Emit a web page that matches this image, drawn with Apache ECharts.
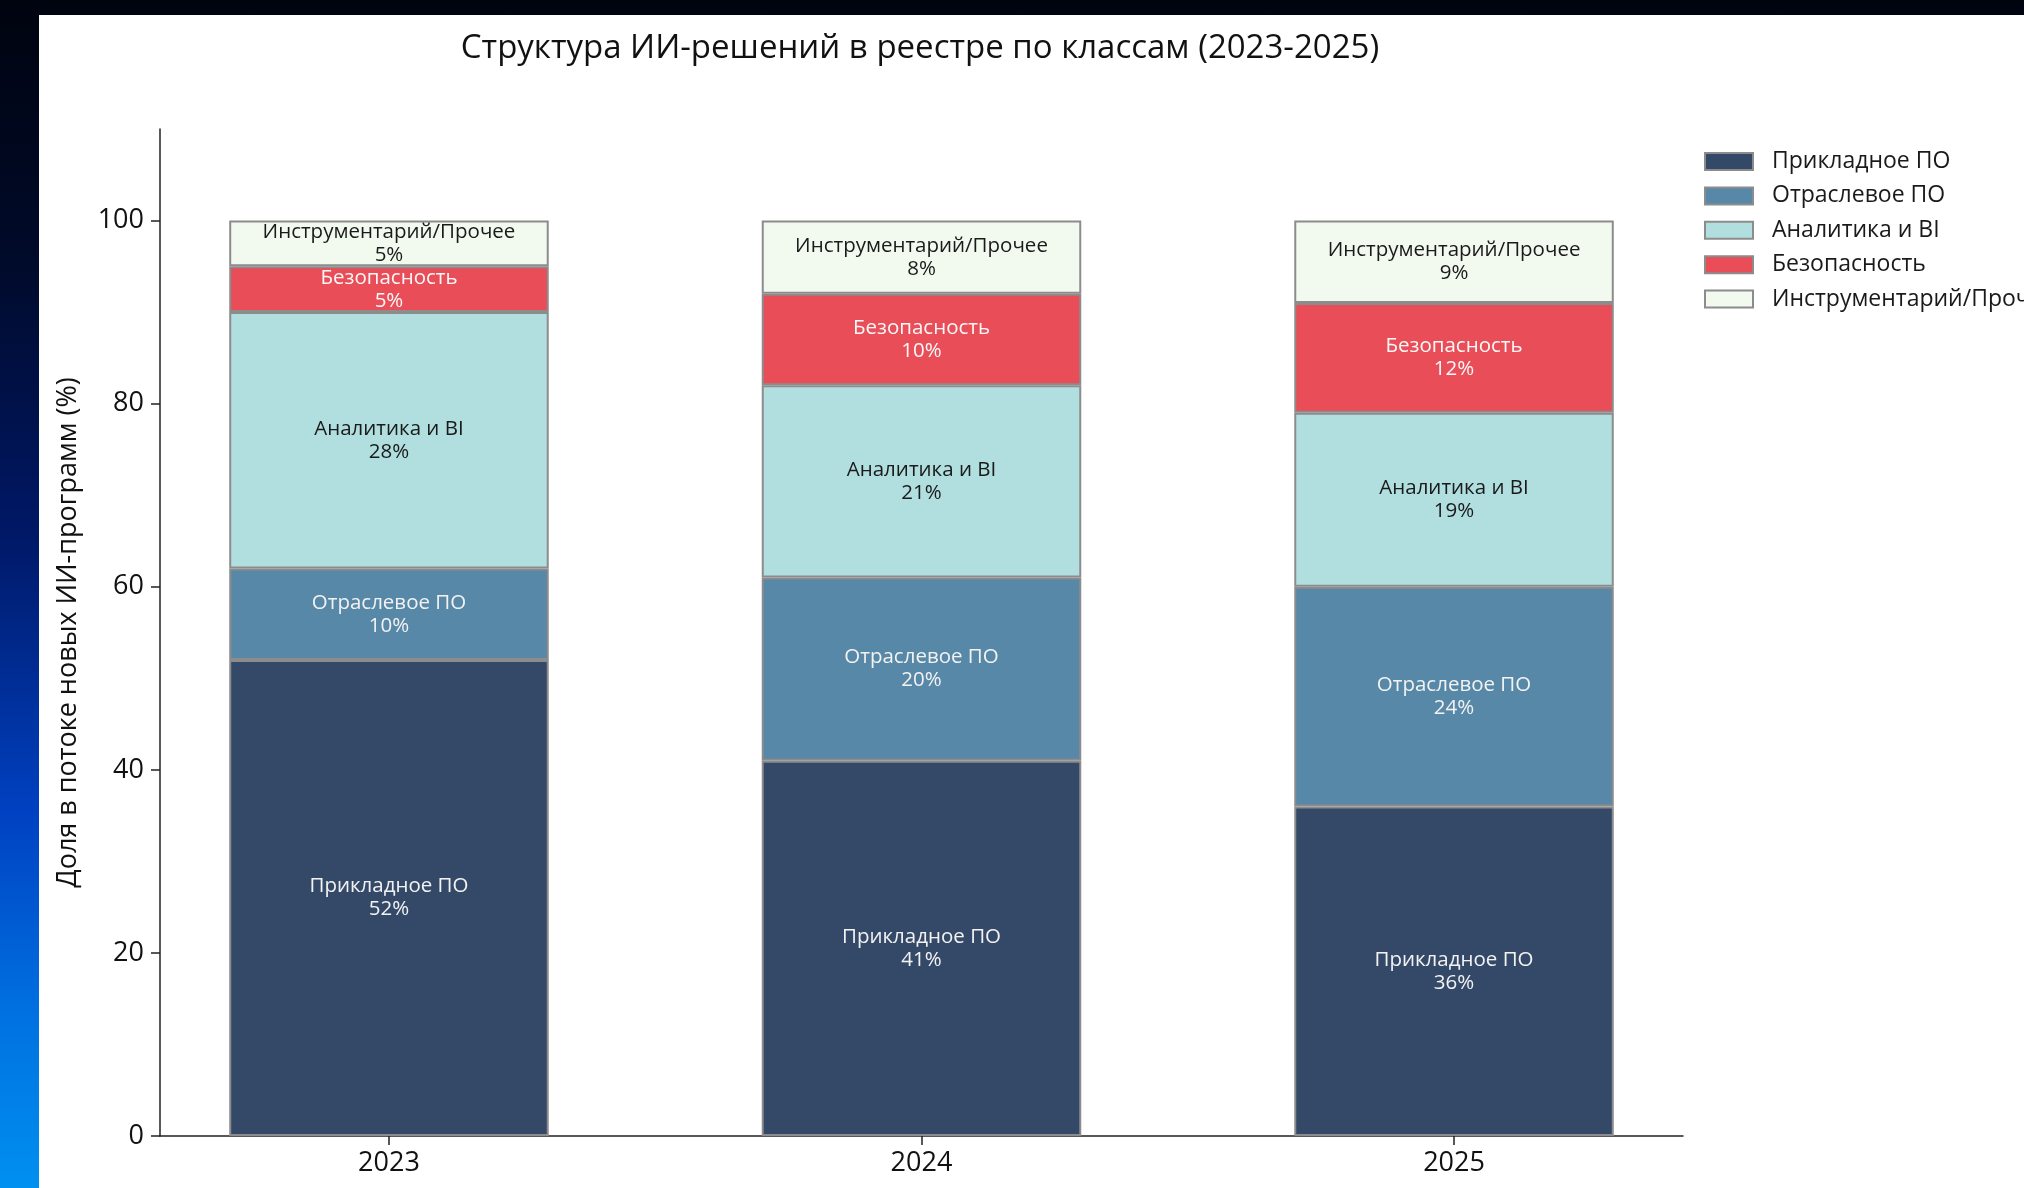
<!DOCTYPE html>
<html>
<head>
<meta charset="utf-8">
<script src="https://cdn.jsdelivr.net/npm/echarts@6/dist/echarts.min.js"></script>
<style>
html,body{margin:0;padding:0;width:2024px;height:1188px;overflow:hidden;}
body{background:linear-gradient(to bottom,#00040f 0%,#000a2a 22%,#001866 45%,#0040c0 68%,#0070e0 85%,#0090f0 100%);}
#chart{position:absolute;left:39px;top:15px;width:1985px;height:1173px;background:#ffffff;}
</style>
</head>
<body>
<div id="chart"></div>
<script>
const categories = ['2023', '2024', '2025'];
const seriesNames = ['Прикладное ПО', 'Отраслевое ПО', 'Аналитика и BI', 'Безопасность', 'Инструментарий/Прочее'];
const appliedSW = [52, 41, 36];
const industrySW = [10, 20, 24];
const analyticsBI = [28, 21, 19];
const security = [5, 10, 12];
const tooling = [5, 8, 9];
const yTicks = [0, 20, 40, 60, 80, 100];

const seriesValues = [appliedSW, industrySW, analyticsBI, security, tooling];
const colors = ['#344968', '#5888a7', '#b1dedf', '#e94d58', '#f2faf0'];
const labelColors = ['#f2f2f2', '#f2f2f2', '#1a1a1a', '#f8f8f8', '#1a1a1a'];
const FONT = '"Open Sans", sans-serif';

const chart = echarts.init(document.getElementById('chart'));
// visible axes frame
const axLeft = 121, axTop = 114, axW = 1523, axH = 1007;
const xMin = -0.43, xMax = 2.43;
const unit = axW / (xMax - xMin);           // px per category step
const barGridW = unit * categories.length;   // category band grid width
const barGridLeft = axLeft + (0 - xMin) * unit - unit / 2;

chart.setOption({
  animation: false,
  backgroundColor: '#ffffff',
  textStyle: { fontFamily: FONT },
  title: {
    text: 'Структура ИИ-решений в реестре по классам (2023-2025)',
    left: 876, textAlign: 'center', top: 12,
    textStyle: { fontFamily: FONT, fontSize: 33, fontWeight: 'normal', color: '#111' }
  },
  legend: {
    orient: 'vertical', left: 1660, top: 130,
    itemWidth: 48, itemHeight: 17, itemGap: 11.4,
    icon: 'rect',
    data: seriesNames,
    textStyle: { fontFamily: FONT, fontSize: 23, color: '#1a1a1a', padding: [0, 0, 0, 14] },
    itemStyle: { borderColor: '#8c8c8c', borderWidth: 2 }
  },
  grid: [
    { left: barGridLeft, top: axTop, width: barGridW, height: axH, containLabel: false },
    { left: axLeft, top: axTop, width: axW, height: axH, containLabel: false }
  ],
  xAxis: [
    {
      type: 'category', gridIndex: 0, data: categories, boundaryGap: true,
      axisLine: { show: false }, axisTick: { show: false }, axisLabel: { show: false }, splitLine: { show: false }
    },
    {
      type: 'value', gridIndex: 1, min: xMin, max: xMax,
      splitLine: { show: false },
      axisLine: { show: true, onZero: false, lineStyle: { color: '#222', width: 1.5 } },
      axisTick: { show: true, length: 9, customValues: [0, 1, 2], lineStyle: { color: '#222', width: 1.5 } },
      axisLabel: { customValues: [0, 1, 2], margin: 14, fontFamily: FONT, fontSize: 27, color: '#111',
        formatter: v => categories[Math.round(v)] }
    }
  ],
  yAxis: [
    {
      type: 'value', gridIndex: 0, min: 0, max: 110,
      axisLine: { show: false }, axisTick: { show: false }, axisLabel: { show: false }, splitLine: { show: false }
    },
    {
      type: 'value', gridIndex: 1, min: 0, max: 110, interval: 20,
      name: 'Доля в потоке новых ИИ-программ (%)',
      nameLocation: 'middle', nameGap: 78,
      nameTextStyle: { fontFamily: FONT, fontSize: 27, color: '#111' },
      splitLine: { show: false },
      axisLine: { show: true, onZero: false, lineStyle: { color: '#222', width: 1.5 } },
      axisTick: { show: true, length: 9, customValues: yTicks, lineStyle: { color: '#222', width: 1.5 } },
      axisLabel: { customValues: yTicks, margin: 16, fontFamily: FONT, fontSize: 27, color: '#111' }
    }
  ],
  series: seriesNames.map((name, i) => ({
    name: name,
    type: 'bar',
    xAxisIndex: 0, yAxisIndex: 0,
    stack: 'total',
    barWidth: '60%',
    data: seriesValues[i],
    itemStyle: { color: colors[i], borderColor: '#8c8c8c', borderWidth: 2 },
    label: {
      show: true, position: 'inside',
      fontFamily: FONT, fontSize: 20.5, lineHeight: 23, color: labelColors[i],
      formatter: p => p.seriesName + '\n' + p.value + '%'
    }
  }))
});
</script>
</body>
</html>
